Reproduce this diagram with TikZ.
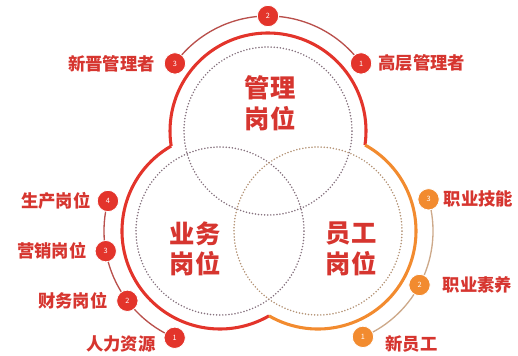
\documentclass[tikz,border=0pt]{standalone}
\usepackage{fontspec}
\newfontfamily\cjk{Noto Sans CJK SC}
\usetikzlibrary{positioning,calc,backgrounds}
\definecolor{Red}{HTML}{E3342B}
\definecolor{Orange}{HTML}{F28B2F}
\definecolor{Ink}{HTML}{D6352F}
\definecolor{Wire}{HTML}{B9504C}
\definecolor{Tan}{HTML}{CDA98A}
\definecolor{Dots}{HTML}{85717E}
\definecolor{DotsTan}{HTML}{B39274}
\tikzset{
  badge/.style={circle,fill=Red,draw=white,line width=.6pt,minimum size=16pt,inner sep=0pt,text=white,font=\cjk\fontsize{5.5}{5.5}\selectfont},
  badgeo/.style={badge,fill=Orange},
  lbl/.style={inner sep=0pt,text=Ink,font=\cjk\bfseries\fontsize{13}{15}\selectfont},
  heading/.style={align=center,inner sep=0pt,text=Ink,font=\cjk\bfseries\fontsize{19}{23}\selectfont},
  ring/.style={line width=2.3pt,draw=#1},
  dotring/.style={line width=1.3pt,line cap=round,dash pattern=on 0pt off 2.3pt,draw=#1},
  link/.style={line width=1pt,draw=#1}
}
\begin{document}
\begin{tikzpicture}[x=0.75pt,y=0.75pt]
\useasboundingbox (0,0) rectangle (518,355);
\coordinate (T) at (268,224);
\coordinate (L) at (220,124);
\coordinate (R) at (318,124);
% dotted circles
\draw[dotring=Dots] (T) circle[radius=84];
\draw[dotring=Dots] (L) circle[radius=84];
\draw[dotring=DotsTan] (R) circle[radius=84];
% outer outline
\draw[ring=Red] ($(T)+(-8.2:98)$) arc[start angle=-8.2,end angle=188.8,radius=98];
\draw[ring=Red] ($(L)+(119.9:98)$) arc[start angle=119.9,end angle=300,radius=98];
\draw[ring=Orange] ($(R)+(240:98)$) arc[start angle=240,end angle=421.3,radius=98];
% titles
\node[heading] (mgmt) at ($(T)+(2,28)$) {管理\\岗位};
\node[heading] (biz) at ($(L)+(-25,-18)$) {业务\\岗位};
\node[heading] (staff) at ($(R)+(33,-18)$) {员工\\岗位};
% badges
\node[badge] (t1) at ($(T)+(36:115)$) {1};
\node[badge] (t2) at ($(T)+(90:115)$) {2};
\node[badge] (t3) at ($(T)+(144:115)$) {3};
\node[badge] (l4) at ($(L)+(165:116)$) {4};
\node[badge] (l3) at ($(L)+(190:116)$) {3};
\node[badge] (l2) at ($(L)+(217:116)$) {2};
\node[badge] (l1) at ($(L)+(247:116)$) {1};
\node[badgeo] (r3) at ($(R)+(16:115)$) {3};
\node[badgeo] (r2) at ($(R)+(-28:115)$) {2};
\node[badgeo] (r1) at ($(R)+(-67:115)$) {1};
\begin{scope}[on background layer]
\draw[link=Wire] (t1.center) arc[start angle=36,end angle=144,radius=115];
\draw[link=Wire] (l4.center) arc[start angle=165,end angle=247,radius=116];
\draw[link=Tan] (r3.center) arc[start angle=16,end angle=-67,radius=115];
\end{scope}
% labels
\node[lbl,right=4.5pt of t1] {高层管理者};
\node[lbl,left=6.5pt of t3] {新晋管理者};
\node[lbl,left=4.5pt of l4] {生产岗位};
\node[lbl,left=6pt of l3] {营销岗位};
\node[lbl,left=6.5pt of l2] {财务岗位};
\node[lbl,left=6pt of l1,yshift=-5pt] {人力资源};
\node[lbl,right=3pt of r3] {职业技能};
\node[lbl,right=9pt of r2] {职业素养};
\node[lbl,right=8.5pt of r1,yshift=-5pt] {新员工};
\end{tikzpicture}
\end{document}
